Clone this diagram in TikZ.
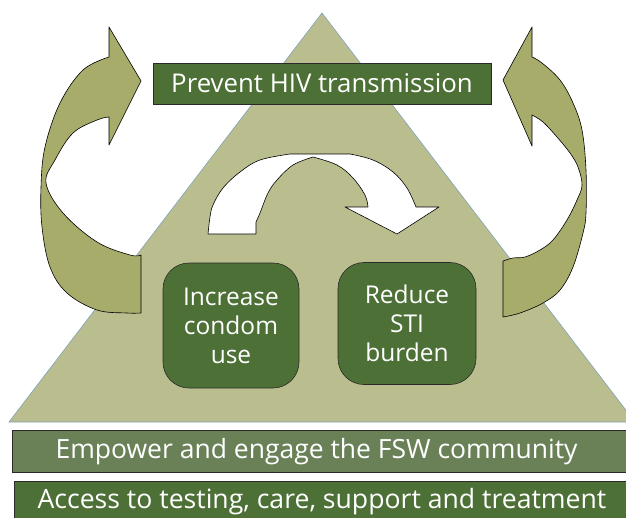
\documentclass[tikz,border=0pt]{standalone}
\usepackage{fontspec}
\setmainfont{Open Sans}
\definecolor{trifill}{HTML}{BABE8E}
\definecolor{triedge}{HTML}{7FA3BA}
\definecolor{arrfill}{HTML}{A8AC6B}
\definecolor{darkgreen}{HTML}{4D7036}
\definecolor{midgreen}{HTML}{6A8157}
\definecolor{edgegray}{HTML}{2A2A2A}
\tikzset{
  titlebox/.style={draw=edgegray, line width=0.8pt, fill=darkgreen, text=white, minimum width=338pt, minimum height=41pt, inner sep=0pt, font=\fontsize{25.8}{30}\selectfont},
  goalbox/.style={draw=edgegray, line width=0.6pt, fill=darkgreen, text=white, rounded corners=26pt, inner sep=0pt, align=center, font=\fontsize{24.5}{29}\selectfont},
  barlabel/.style={text=white, inner sep=0pt, anchor=base},
  bendarrow/.style={fill=arrfill, draw=black, line width=0.6pt, line join=round},
  whitearrow/.style={fill=white, draw=black, line width=0.6pt, line join=round}
}
\begin{document}
\begin{tikzpicture}[x=1pt,y=-1pt]
\useasboundingbox (0,0) rectangle (626,517);
\clip (0,0) rectangle (626,517);
\fill[white] (0,0) rectangle (626,517);
% triangle
\filldraw[fill=trifill, draw=triedge, line width=0.6pt] (322,13) -- (9,422) -- (635,422) -- cycle;
% left bent arrow
\path[bendarrow] (141,81) -- (109,27) -- (109,57)
  -- plot[smooth, tension=0.6] coordinates {(109,57) (83,70) (60,103) (45,147) (41,187) (42,227) (50,267) (67,293) (97,310) (127,313) (141,313)}
  -- (141,255)
  -- plot[smooth, tension=0.6] coordinates {(141,255) (130,255) (97,242) (63,213) (46,183) (55,160) (73,133) (97,120) (109,117)}
  -- (109,145) -- cycle;
% right bent arrow
\path[bendarrow] (503,80) -- (532,27) -- (532,57)
  -- plot[smooth, tension=0.6] coordinates {(532,57) (542,63) (560,80) (573,103) (582,130) (586,170) (586,213) (583,233) (573,267) (560,290) (543,303) (520,313) (503,317)}
  -- (503,261)
  -- plot[smooth, tension=0.6] coordinates {(503,261) (513,258) (525,257) (540,250) (553,240) (567,220) (577,200) (582,185) (578,167) (570,153) (557,137) (543,122) (532,115)}
  -- (532,146) -- cycle;
% title
\node[titlebox] (prevent) at (322,83.5) {Prevent HIV transmission};
% central white arrow
\path[whitearrow] (208,234)
  -- plot[smooth, tension=0.6] coordinates {(208,234) (210,217) (213,205) (223,188) (240,172) (260,160) (290,154)}
  -- (350,154)
  -- plot[smooth, tension=0.6] coordinates {(350,154) (373,160) (393,172) (407,188) (416,207)}
  -- (439,207) -- (397,234) -- (345,207) -- (368,207)
  -- plot[smooth, tension=0.6] coordinates {(368,207) (365,195) (353,178) (337,165) (313,157)}
  -- plot[smooth, tension=0.6] coordinates {(313,157) (293,165) (277,180) (268,193) (260,213) (256,222)}
  -- (256,234) -- cycle;
% goal boxes
\node[goalbox, minimum width=136pt, minimum height=125pt] (condom) at (231,325.5) {Increase\\condom\\use};
\node[goalbox, minimum width=138pt, minimum height=122pt] (sti) at (407,323.5) {Reduce\\STI\\burden};
% bars
\filldraw[fill=midgreen, draw=edgegray, line width=0.8pt] (12,430) rectangle (640,472);
\node[barlabel, font=\fontsize{26.5}{30}\selectfont] (empower) at (316.5,458.5) {Empower and engage the FSW community};
\filldraw[fill=darkgreen, draw=edgegray, line width=0.8pt] (14,481) rectangle (640,530);
\node[barlabel, font=\fontsize{26.6}{30}\selectfont] (access) at (322,508.5) {Access to testing, care, support and treatment};
\end{tikzpicture}
\end{document}
